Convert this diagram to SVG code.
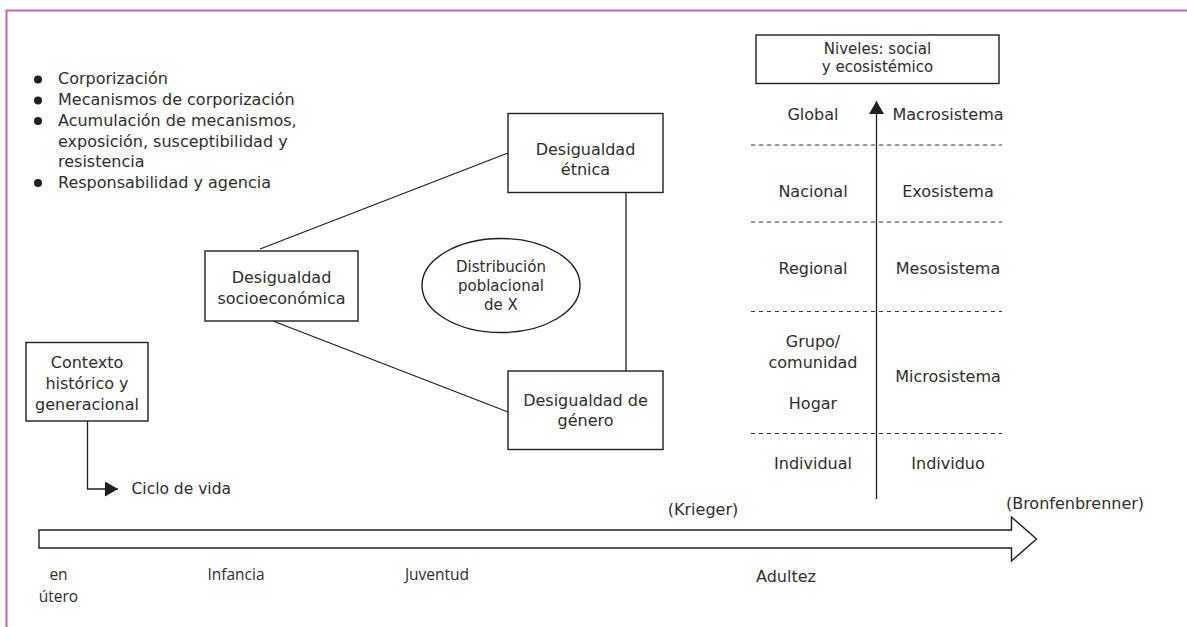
<svg xmlns="http://www.w3.org/2000/svg" width="1187" height="627" viewBox="0 0 1187 627">
  <defs>
    <style>
      .t { font-family: "DejaVu Sans", "Liberation Sans", sans-serif; font-size: 16px; fill: #2e2e2e; }
      .c { text-anchor: middle; }
      .s15 { font-size: 15px; }
      .life { font-family: "Open Sans", "Liberation Sans", sans-serif; font-size: 15.5px; fill: #2e2e2e; text-anchor: middle; }
      .box { fill: #fff; stroke: #231f20; stroke-width: 1.4; }
      .ln { fill: none; stroke: #231f20; stroke-width: 1.3; }
      .dash { fill: none; stroke: #333; stroke-width: 1.2; stroke-dasharray: 4 4; }
    </style>
    <marker id="tri" viewBox="0 0 13 15" refX="13" refY="7.5" markerWidth="13" markerHeight="15" markerUnits="userSpaceOnUse" orient="auto">
      <path d="M0,0 L13,7.5 L0,15 Z" fill="#231f20"/>
    </marker>
    <marker id="tri-up" viewBox="0 0 13 15" refX="13" refY="7.5" markerWidth="13" markerHeight="15" markerUnits="userSpaceOnUse" orient="auto">
      <path d="M0,0 L13,7.5 L0,15 Z" fill="#231f20"/>
    </marker>
  </defs>

  <!-- page frame -->
  <path d="M6.5,627 L6.5,10.5 L1187,10.5" fill="none" stroke="#c963b8" stroke-width="2"/>

  <!-- bullet list -->
  <g id="bullets">
    <circle cx="38" cy="79.5" r="4" fill="#231f20"/>
    <circle cx="38" cy="100.5" r="4" fill="#231f20"/>
    <circle cx="38" cy="121" r="4" fill="#231f20"/>
    <circle cx="38" cy="183" r="4" fill="#231f20"/>
    <text class="t" x="58" y="84">Corporización</text>
    <text class="t" x="58" y="105">Mecanismos de corporización</text>
    <text class="t" x="58" y="126">Acumulación de mecanismos,</text>
    <text class="t" x="58" y="146.5">exposición, susceptibilidad y</text>
    <text class="t" x="58" y="167">resistencia</text>
    <text class="t" x="58" y="188">Responsabilidad y agencia</text>
  </g>

  <!-- connectors -->
  <g id="connectors">
    <line class="ln" x1="260" y1="249" x2="508" y2="153"/>
    <line class="ln" x1="273" y1="321" x2="508" y2="412"/>
    <line class="ln" x1="626" y1="192" x2="626" y2="371"/>
    <path class="ln" d="M87.5,421 L87.5,489 L118,489" marker-end="url(#tri)"/>
    <line class="ln" x1="876.5" y1="499" x2="876.5" y2="101" marker-end="url(#tri-up)"/>
  </g>

  <!-- triangle of inequalities -->
  <g id="etnica">
    <rect class="box" x="508" y="113.5" width="155" height="79"/>
    <text class="t c" x="585.5" y="155">Desigualdad</text>
    <text class="t c" x="585.5" y="175">étnica</text>
  </g>
  <g id="socioeconomica">
    <rect class="box" x="205" y="251" width="153" height="70"/>
    <text class="t c" x="281.5" y="283">Desigualdad</text>
    <text class="t c" x="281.5" y="304">socioeconómica</text>
  </g>
  <g id="genero">
    <rect class="box" x="508" y="371" width="155" height="78.5"/>
    <text class="t c" x="585.5" y="406">Desigualdad de</text>
    <text class="t c" x="585.5" y="426">género</text>
  </g>
  <g id="distribucion">
    <ellipse class="box" cx="501" cy="285.5" rx="79" ry="47"/>
    <text class="t c s15" x="501" y="271.5">Distribución</text>
    <text class="t c s15" x="501" y="291">poblacional</text>
    <text class="t c s15" x="501" y="310">de X</text>
  </g>

  <!-- historical context -->
  <g id="contexto">
    <rect class="box" x="26" y="342.5" width="122" height="78.5"/>
    <text class="t c" x="87" y="368">Contexto</text>
    <text class="t c" x="87" y="389">histórico y</text>
    <text class="t c" x="87" y="410">generacional</text>
  </g>
  <g id="ciclo">
    <text class="t" x="131.5" y="493.5" style="font-size:15.5px">Ciclo de vida</text>
  </g>

  <!-- levels -->
  <g id="niveles">
    <rect class="box" x="756" y="35" width="243" height="48.5"/>
    <text class="t c s15" x="877.5" y="53.5">Niveles: social</text>
    <text class="t c s15" x="877.5" y="72">y ecosistémico</text>
  </g>
  <g id="escalas">
    <line class="dash" x1="751" y1="145" x2="1002" y2="145"/>
    <line class="dash" x1="751" y1="222" x2="1002" y2="222"/>
    <line class="dash" x1="751" y1="311.5" x2="1002" y2="311.5"/>
    <line class="dash" x1="751" y1="433.5" x2="1002" y2="433.5"/>
    <text class="t c" x="813" y="119.5">Global</text>
    <text class="t c" x="948" y="119.5">Macrosistema</text>
    <text class="t c" x="813" y="197">Nacional</text>
    <text class="t c" x="948" y="197">Exosistema</text>
    <text class="t c" x="813" y="273.5">Regional</text>
    <text class="t c" x="948" y="273.5">Mesosistema</text>
    <text class="t c" x="813" y="346.5">Grupo/</text>
    <text class="t c" x="813" y="367.5">comunidad</text>
    <text class="t c" x="813" y="408.5">Hogar</text>
    <text class="t c" x="948" y="382">Microsistema</text>
    <text class="t c" x="813" y="468.5">Individual</text>
    <text class="t c" x="948" y="468.5">Individuo</text>
  </g>

  <!-- life course arrow -->
  <g id="curso-vida">
    <path class="box" d="M39,530 L1011.5,530 L1011.5,517 L1036.5,539 L1011.5,561 L1011.5,548 L39,548 Z"/>
    <text class="t c" x="703" y="515">(Krieger)</text>
    <text class="t c" x="1075" y="508.5">(Bronfenbrenner)</text>
    <text class="life" x="58.5" y="580">en</text>
    <text class="life" x="58.5" y="601.5">útero</text>
    <text class="life" x="236" y="580">Infancia</text>
    <text class="life" x="437" y="580">Juventud</text>
    <text class="t c" x="786" y="581.5">Adultez</text>
  </g>
</svg>
